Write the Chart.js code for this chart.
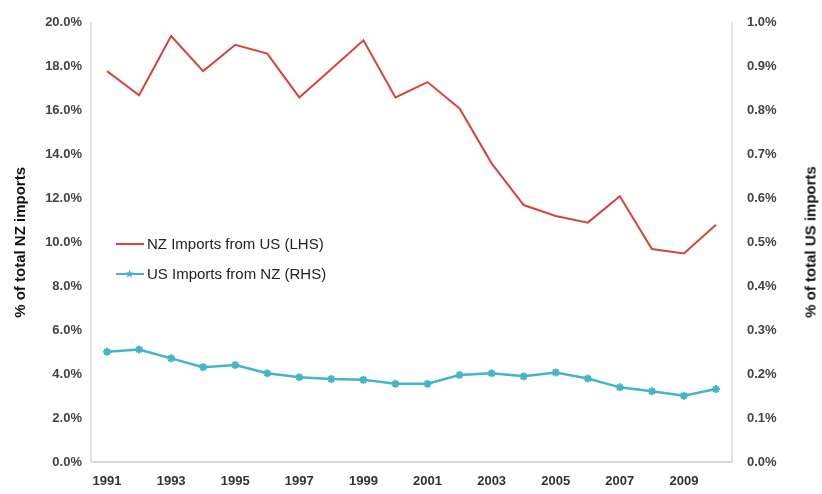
<!DOCTYPE html>
<html>
<head>
<meta charset="utf-8">
<script src="https://cdn.jsdelivr.net/npm/chart.js@4"></script>
<style>
  body { margin: 0; background: #fff; }
  #wrap { position: relative; width: 822px; height: 494px; }
  #legend { position: absolute; left: 116px; top: 229px; font-family: "Liberation Sans", Arial, sans-serif; font-size: 15px; color: #222; }
  #legend div { height: 30px; line-height: 30px; display: flex; align-items: center; }
  .sw { display: inline-block; width: 28px; height: 2px; margin-right: 3px; position: relative; }
  .star { position: absolute; left: 9px; top: -4px; width: 9px; height: 9px; background: #43b5c6; clip-path: polygon(50% 0, 61% 38%, 100% 38%, 68% 60%, 80% 100%, 50% 75%, 20% 100%, 32% 60%, 0 38%, 39% 38%); }
  #rtitle { position: absolute; left: 810px; top: 242px; transform: translate(-50%, -50%) rotate(-90deg); white-space: nowrap;
            font-family: "Liberation Sans", Arial, sans-serif; font-size: 15px; font-weight: bold; color: #111; }
</style>
</head>
<body>
<div id="wrap">
  <canvas id="chart" width="822" height="494"></canvas>
  <div id="legend">
    <div><span class="sw" style="background:#d6443c"></span>NZ Imports from US (LHS)</div>
    <div><span class="sw" style="background:#43b5c6"><span class="star"></span></span>US Imports from NZ (RHS)</div>
  </div>
  <div id="rtitle">% of total US imports</div>
</div>
<script>
// years on the x axis
const years = ["1991","1992","1993","1994","1995","1996","1997","1998","1999","2000",
               "2001","2002","2003","2004","2005","2006","2007","2008","2009","2010"];
// % of total NZ imports coming from the US (left axis)
const nzFromUs = [17.8, 16.7, 19.4, 17.8, 19.0, 18.6, 16.6, 17.9, 19.2, 16.6,
                  17.3, 16.1, 13.6, 11.7, 11.2, 10.9, 12.1, 9.7, 9.5, 10.8];
// % of total US imports coming from NZ (right axis)
const usFromNz = [0.251, 0.256, 0.236, 0.216, 0.221, 0.202, 0.193, 0.189, 0.187, 0.178,
                  0.178, 0.198, 0.202, 0.195, 0.204, 0.190, 0.170, 0.161, 0.151, 0.166];

const tickFont = { family: "Liberation Sans, Arial, sans-serif", size: 13, weight: "bold" };
const titleFont = { family: "Liberation Sans, Arial, sans-serif", size: 15, weight: "bold" };

const ctx = document.getElementById("chart").getContext("2d");
new Chart(ctx, {
  type: "line",
  data: {
    labels: years,
    datasets: [
      {
        label: "NZ Imports from US (LHS)",
        data: nzFromUs,
        yAxisID: "yL",
        borderColor: "#d6443c",
        borderWidth: 2,
        pointRadius: 0,
        tension: 0,
        fill: false,
      },
      {
        label: "US Imports from NZ (RHS)",
        data: usFromNz,
        yAxisID: "yR",
        borderColor: "#43b5c6",
        backgroundColor: "#43b5c6",
        borderWidth: 2.5,
        pointStyle: "star",
        pointRadius: 4,
        pointBorderWidth: 2,
        tension: 0,
        fill: false,
      },
    ],
  },
  options: {
    responsive: false,
    animation: false,
    layout: { padding: { top: 11, bottom: 0, left: 0, right: 0 } },
    plugins: { legend: { display: false }, tooltip: { enabled: false } },
    scales: {
      x: {
        offset: true,
        grid: { display: false, drawTicks: false },
        border: { color: "#d8d8d8", width: 2 },
        ticks: {
          font: tickFont,
          color: "#333",
          padding: 12,
          autoSkip: false,
          maxRotation: 0,
          callback: function (v, i) { return i % 2 === 0 ? years[i] : ""; },
        },
        afterFit: function (s) { s.height = 32; },
      },
      yL: {
        position: "left",
        min: 0,
        max: 20,
        grid: { display: false, drawTicks: false },
        border: { color: "#e2e2e2", width: 2 },
        ticks: {
          stepSize: 2,
          font: tickFont,
          color: "#444",
          padding: 9,
          callback: (v) => v.toFixed(1) + "%",
        },
        title: { display: true, text: "% of total NZ imports", font: titleFont, color: "#111", padding: { top: 12, bottom: 0 } },
        afterFit: function (s) { s.width = 91; },
      },
      yR: {
        position: "right",
        min: 0,
        max: 1,
        grid: { display: false, drawTicks: false },
        border: { color: "#e2e2e2", width: 2 },
        ticks: {
          stepSize: 0.1,
          font: tickFont,
          color: "#444",
          padding: 15,
          callback: (v) => v.toFixed(1) + "%",
        },
        afterFit: function (s) { s.width = 90; },
      },
    },
  },
});
</script>
</body>
</html>
